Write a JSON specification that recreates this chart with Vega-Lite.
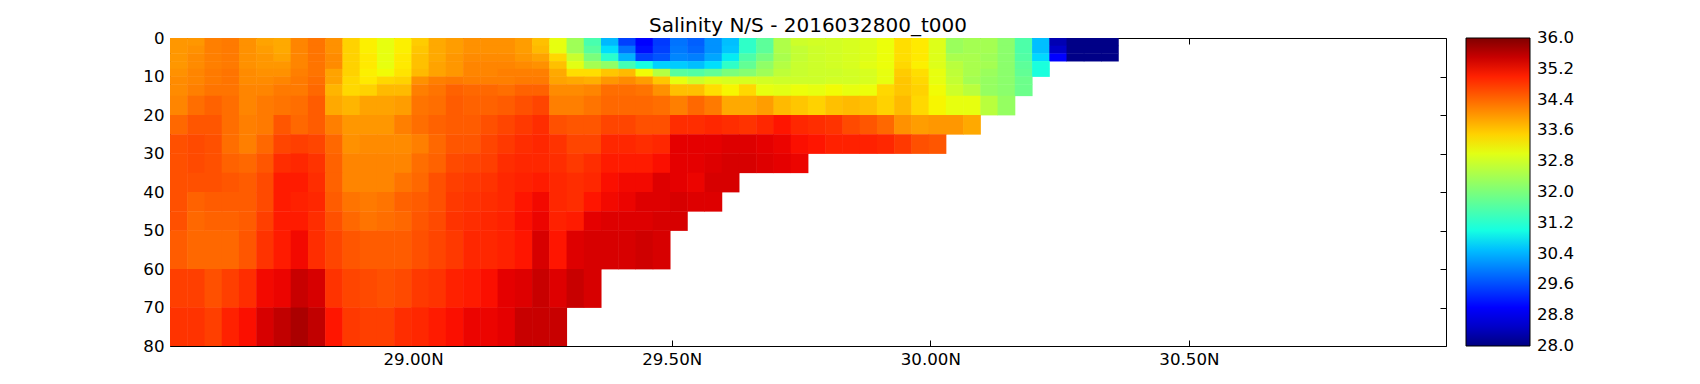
{"$schema":"https://vega.github.io/schema/vega-lite/v6.json","autosize":"none","width":1276,"height":308,"padding":{"left":170,"top":38,"right":254,"bottom":38},"background":"white","config":{"view":{"stroke":"black","strokeWidth":1},"font":"DejaVu Sans","axis":{"grid":false,"domain":false,"tickColor":"black","tickWidth":1,"labelColor":"black","labelFont":"DejaVu Sans","labelFontSize":16.67,"title":null,"zindex":1}},"title":{"text":"Salinity N/S - 2016032800_t000","font":"DejaVu Sans","fontSize":20,"fontWeight":"normal","color":"black","anchor":"middle","offset":-6},"datasets":{"columns":[{"lat":28.53,"lat2":28.5643},{"lat":28.5633,"lat2":28.5977},{"lat":28.5967,"lat2":28.631},{"lat":28.63,"lat2":28.6643},{"lat":28.6633,"lat2":28.6977},{"lat":28.6967,"lat2":28.731},{"lat":28.73,"lat2":28.7643},{"lat":28.7633,"lat2":28.7977},{"lat":28.7967,"lat2":28.831},{"lat":28.83,"lat2":28.8643},{"lat":28.8633,"lat2":28.8977},{"lat":28.8967,"lat2":28.931},{"lat":28.93,"lat2":28.9643},{"lat":28.9633,"lat2":28.9977},{"lat":28.9967,"lat2":29.031},{"lat":29.03,"lat2":29.0643},{"lat":29.0633,"lat2":29.0977},{"lat":29.0967,"lat2":29.131},{"lat":29.13,"lat2":29.1643},{"lat":29.1633,"lat2":29.1977},{"lat":29.1967,"lat2":29.231},{"lat":29.23,"lat2":29.2643},{"lat":29.2633,"lat2":29.2977},{"lat":29.2967,"lat2":29.331},{"lat":29.33,"lat2":29.3643},{"lat":29.3633,"lat2":29.3977},{"lat":29.3967,"lat2":29.431},{"lat":29.43,"lat2":29.4643},{"lat":29.4633,"lat2":29.4977},{"lat":29.4967,"lat2":29.531},{"lat":29.53,"lat2":29.5643},{"lat":29.5633,"lat2":29.5977},{"lat":29.5967,"lat2":29.631},{"lat":29.63,"lat2":29.6643},{"lat":29.6633,"lat2":29.6977},{"lat":29.6967,"lat2":29.731},{"lat":29.73,"lat2":29.7643},{"lat":29.7633,"lat2":29.7977},{"lat":29.7967,"lat2":29.831},{"lat":29.83,"lat2":29.8643},{"lat":29.8633,"lat2":29.8977},{"lat":29.8967,"lat2":29.931},{"lat":29.93,"lat2":29.9643},{"lat":29.9633,"lat2":29.9977},{"lat":29.9967,"lat2":30.031},{"lat":30.03,"lat2":30.0643},{"lat":30.0633,"lat2":30.0977},{"lat":30.0967,"lat2":30.131},{"lat":30.13,"lat2":30.1643},{"lat":30.1633,"lat2":30.1977},{"lat":30.1967,"lat2":30.231},{"lat":30.23,"lat2":30.2643},{"lat":30.2633,"lat2":30.2977},{"lat":30.2967,"lat2":30.331},{"lat":30.33,"lat2":30.3643}],"levels":[{"z":0,"z2":2.1},{"z":2,"z2":4.1},{"z":4,"z2":6.1},{"z":6,"z2":8.1},{"z":8,"z2":10.1},{"z":10,"z2":12.1},{"z":12,"z2":15.1},{"z":15,"z2":20.1},{"z":20,"z2":25.1},{"z":25,"z2":30.1},{"z":30,"z2":35.1},{"z":35,"z2":40.1},{"z":40,"z2":45.1},{"z":45,"z2":50.1},{"z":50,"z2":60.1},{"z":60,"z2":70.1},{"z":70,"z2":80}]},"data":{"values":[
{"lat":28.53,"z":0,"s":34},{"lat":28.5633,"z":0,"s":34},{"lat":28.5967,"z":0,"s":34.2},{"lat":28.63,"z":0,"s":34.25},{"lat":28.6633,"z":0,"s":34.05},{"lat":28.6967,"z":0,"s":33.9},{"lat":28.73,"z":0,"s":33.85},{"lat":28.7633,"z":0,"s":34.15},{"lat":28.7967,"z":0,"s":34.3},{"lat":28.83,"z":0,"s":34.05},{"lat":28.8633,"z":0,"s":33.5},{"lat":28.8967,"z":0,"s":33.25},{"lat":28.93,"z":0,"s":33.05},{"lat":28.9633,"z":0,"s":33.25},{"lat":28.9967,"z":0,"s":33.55},{"lat":29.03,"z":0,"s":33.85},{"lat":29.0633,"z":0,"s":33.95},{"lat":29.0967,"z":0,"s":34.05},{"lat":29.13,"z":0,"s":34.05},{"lat":29.1633,"z":0,"s":34.05},{"lat":29.1967,"z":0,"s":33.95},{"lat":29.23,"z":0,"s":33.65},{"lat":29.2633,"z":0,"s":33.05},{"lat":29.2967,"z":0,"s":32.35},{"lat":29.33,"z":0,"s":31.5},{"lat":29.3633,"z":0,"s":30.45},{"lat":29.3967,"z":0,"s":29.5},{"lat":29.43,"z":0,"s":29},{"lat":29.4633,"z":0,"s":29.45},{"lat":29.4967,"z":0,"s":29.9},{"lat":29.53,"z":0,"s":29.75},{"lat":29.5633,"z":0,"s":30.15},{"lat":29.5967,"z":0,"s":30.5},{"lat":29.63,"z":0,"s":31.25},{"lat":29.6633,"z":0,"s":31.7},{"lat":29.6967,"z":0,"s":32.5},{"lat":29.73,"z":0,"s":32.8},{"lat":29.7633,"z":0,"s":32.85},{"lat":29.7967,"z":0,"s":32.85},{"lat":29.83,"z":0,"s":32.9},{"lat":29.8633,"z":0,"s":32.95},{"lat":29.8967,"z":0,"s":33.1},{"lat":29.93,"z":0,"s":33.4},{"lat":29.9633,"z":0,"s":33.3},{"lat":29.9967,"z":0,"s":32.95},{"lat":30.03,"z":0,"s":32.3},{"lat":30.0633,"z":0,"s":32.4},{"lat":30.0967,"z":0,"s":32.4},{"lat":30.13,"z":0,"s":32.15},{"lat":30.1633,"z":0,"s":31.55},{"lat":30.1967,"z":0,"s":30.5},{"lat":30.23,"z":0,"s":28.35},{"lat":30.2633,"z":0,"s":28.05},{"lat":30.2967,"z":0,"s":28.05},{"lat":30.33,"z":0,"s":28.05},
{"lat":28.53,"z":2,"s":34},{"lat":28.5633,"z":2,"s":34.05},{"lat":28.5967,"z":2,"s":34.2},{"lat":28.63,"z":2,"s":34.25},{"lat":28.6633,"z":2,"s":34.05},{"lat":28.6967,"z":2,"s":33.95},{"lat":28.73,"z":2,"s":33.85},{"lat":28.7633,"z":2,"s":34.15},{"lat":28.7967,"z":2,"s":34.3},{"lat":28.83,"z":2,"s":34.05},{"lat":28.8633,"z":2,"s":33.5},{"lat":28.8967,"z":2,"s":33.25},{"lat":28.93,"z":2,"s":33.05},{"lat":28.9633,"z":2,"s":33.25},{"lat":28.9967,"z":2,"s":33.6},{"lat":29.03,"z":2,"s":33.85},{"lat":29.0633,"z":2,"s":33.95},{"lat":29.0967,"z":2,"s":34.05},{"lat":29.13,"z":2,"s":34.05},{"lat":29.1633,"z":2,"s":34.05},{"lat":29.1967,"z":2,"s":33.95},{"lat":29.23,"z":2,"s":33.7},{"lat":29.2633,"z":2,"s":33.05},{"lat":29.2967,"z":2,"s":32.35},{"lat":29.33,"z":2,"s":31.65},{"lat":29.3633,"z":2,"s":30.75},{"lat":29.3967,"z":2,"s":29.9},{"lat":29.43,"z":2,"s":29.1},{"lat":29.4633,"z":2,"s":29.5},{"lat":29.4967,"z":2,"s":29.95},{"lat":29.53,"z":2,"s":29.8},{"lat":29.5633,"z":2,"s":30.15},{"lat":29.5967,"z":2,"s":30.55},{"lat":29.63,"z":2,"s":31.25},{"lat":29.6633,"z":2,"s":31.7},{"lat":29.6967,"z":2,"s":32.5},{"lat":29.73,"z":2,"s":32.7},{"lat":29.7633,"z":2,"s":32.8},{"lat":29.7967,"z":2,"s":32.85},{"lat":29.83,"z":2,"s":32.9},{"lat":29.8633,"z":2,"s":32.95},{"lat":29.8967,"z":2,"s":33.1},{"lat":29.93,"z":2,"s":33.4},{"lat":29.9633,"z":2,"s":33.3},{"lat":29.9967,"z":2,"s":32.95},{"lat":30.03,"z":2,"s":32.3},{"lat":30.0633,"z":2,"s":32.4},{"lat":30.0967,"z":2,"s":32.4},{"lat":30.13,"z":2,"s":32.15},{"lat":30.1633,"z":2,"s":31.55},{"lat":30.1967,"z":2,"s":30.5},{"lat":30.23,"z":2,"s":28.5},{"lat":30.2633,"z":2,"s":28.05},{"lat":30.2967,"z":2,"s":28.05},{"lat":30.33,"z":2,"s":28.05},
{"lat":28.53,"z":4,"s":34},{"lat":28.5633,"z":4,"s":34.1},{"lat":28.5967,"z":4,"s":34.2},{"lat":28.63,"z":4,"s":34.25},{"lat":28.6633,"z":4,"s":34.05},{"lat":28.6967,"z":4,"s":34},{"lat":28.73,"z":4,"s":33.9},{"lat":28.7633,"z":4,"s":34.15},{"lat":28.7967,"z":4,"s":34.3},{"lat":28.83,"z":4,"s":34.1},{"lat":28.8633,"z":4,"s":33.5},{"lat":28.8967,"z":4,"s":33.3},{"lat":28.93,"z":4,"s":33.05},{"lat":28.9633,"z":4,"s":33.3},{"lat":28.9967,"z":4,"s":33.65},{"lat":29.03,"z":4,"s":33.85},{"lat":29.0633,"z":4,"s":34},{"lat":29.0967,"z":4,"s":34.1},{"lat":29.13,"z":4,"s":34.1},{"lat":29.1633,"z":4,"s":34.1},{"lat":29.1967,"z":4,"s":34},{"lat":29.23,"z":4,"s":33.9},{"lat":29.2633,"z":4,"s":33.45},{"lat":29.2967,"z":4,"s":32.75},{"lat":29.33,"z":4,"s":32},{"lat":29.3633,"z":4,"s":31.2},{"lat":29.3967,"z":4,"s":30.4},{"lat":29.43,"z":4,"s":29.5},{"lat":29.4633,"z":4,"s":29.65},{"lat":29.4967,"z":4,"s":30.05},{"lat":29.53,"z":4,"s":30},{"lat":29.5633,"z":4,"s":30.3},{"lat":29.5967,"z":4,"s":30.85},{"lat":29.63,"z":4,"s":31.55},{"lat":29.6633,"z":4,"s":31.95},{"lat":29.6967,"z":4,"s":32.45},{"lat":29.73,"z":4,"s":32.7},{"lat":29.7633,"z":4,"s":32.8},{"lat":29.7967,"z":4,"s":32.85},{"lat":29.83,"z":4,"s":32.9},{"lat":29.8633,"z":4,"s":32.95},{"lat":29.8967,"z":4,"s":33.1},{"lat":29.93,"z":4,"s":33.4},{"lat":29.9633,"z":4,"s":33.3},{"lat":29.9967,"z":4,"s":32.95},{"lat":30.03,"z":4,"s":32.45},{"lat":30.0633,"z":4,"s":32.45},{"lat":30.0967,"z":4,"s":32.35},{"lat":30.13,"z":4,"s":32.15},{"lat":30.1633,"z":4,"s":31.6},{"lat":30.1967,"z":4,"s":30.7},{"lat":30.23,"z":4,"s":28.95},{"lat":30.2633,"z":4,"s":28.05},{"lat":30.2967,"z":4,"s":28.05},{"lat":30.33,"z":4,"s":28.05},
{"lat":28.53,"z":6,"s":34},{"lat":28.5633,"z":6,"s":34.1},{"lat":28.5967,"z":6,"s":34.2},{"lat":28.63,"z":6,"s":34.25},{"lat":28.6633,"z":6,"s":34.05},{"lat":28.6967,"z":6,"s":34},{"lat":28.73,"z":6,"s":34},{"lat":28.7633,"z":6,"s":34.15},{"lat":28.7967,"z":6,"s":34.3},{"lat":28.83,"z":6,"s":34.1},{"lat":28.8633,"z":6,"s":33.5},{"lat":28.8967,"z":6,"s":33.3},{"lat":28.93,"z":6,"s":33.05},{"lat":28.9633,"z":6,"s":33.3},{"lat":28.9967,"z":6,"s":33.65},{"lat":29.03,"z":6,"s":33.9},{"lat":29.0633,"z":6,"s":34},{"lat":29.0967,"z":6,"s":34.15},{"lat":29.13,"z":6,"s":34.15},{"lat":29.1633,"z":6,"s":34.15},{"lat":29.1967,"z":6,"s":34.1},{"lat":29.23,"z":6,"s":34.05},{"lat":29.2633,"z":6,"s":33.65},{"lat":29.2967,"z":6,"s":33},{"lat":29.33,"z":6,"s":32.4},{"lat":29.3633,"z":6,"s":32.2},{"lat":29.3967,"z":6,"s":31.45},{"lat":29.43,"z":6,"s":31},{"lat":29.4633,"z":6,"s":30.65},{"lat":29.4967,"z":6,"s":30.6},{"lat":29.53,"z":6,"s":30.5},{"lat":29.5633,"z":6,"s":30.75},{"lat":29.5967,"z":6,"s":31.25},{"lat":29.63,"z":6,"s":31.75},{"lat":29.6633,"z":6,"s":32.2},{"lat":29.6967,"z":6,"s":32.55},{"lat":29.73,"z":6,"s":32.75},{"lat":29.7633,"z":6,"s":32.8},{"lat":29.7967,"z":6,"s":32.85},{"lat":29.83,"z":6,"s":32.9},{"lat":29.8633,"z":6,"s":33},{"lat":29.8967,"z":6,"s":33.1},{"lat":29.93,"z":6,"s":33.45},{"lat":29.9633,"z":6,"s":33.25},{"lat":29.9967,"z":6,"s":32.95},{"lat":30.03,"z":6,"s":32.6},{"lat":30.0633,"z":6,"s":32.45},{"lat":30.0967,"z":6,"s":32.4},{"lat":30.13,"z":6,"s":32.15},{"lat":30.1633,"z":6,"s":31.7},{"lat":30.1967,"z":6,"s":31.05},
{"lat":28.53,"z":8,"s":34.05},{"lat":28.5633,"z":8,"s":34.15},{"lat":28.5967,"z":8,"s":34.25},{"lat":28.63,"z":8,"s":34.3},{"lat":28.6633,"z":8,"s":34.1},{"lat":28.6967,"z":8,"s":34.05},{"lat":28.73,"z":8,"s":34.05},{"lat":28.7633,"z":8,"s":34.2},{"lat":28.7967,"z":8,"s":34.3},{"lat":28.83,"z":8,"s":33.9},{"lat":28.8633,"z":8,"s":33.5},{"lat":28.8967,"z":8,"s":33.25},{"lat":28.93,"z":8,"s":33.15},{"lat":28.9633,"z":8,"s":33.35},{"lat":28.9967,"z":8,"s":33.7},{"lat":29.03,"z":8,"s":33.9},{"lat":29.0633,"z":8,"s":34},{"lat":29.0967,"z":8,"s":34.15},{"lat":29.13,"z":8,"s":34.15},{"lat":29.1633,"z":8,"s":34.2},{"lat":29.1967,"z":8,"s":34.2},{"lat":29.23,"z":8,"s":34.2},{"lat":29.2633,"z":8,"s":33.85},{"lat":29.2967,"z":8,"s":33.4},{"lat":29.33,"z":8,"s":33.4},{"lat":29.3633,"z":8,"s":33.6},{"lat":29.3967,"z":8,"s":33.7},{"lat":29.43,"z":8,"s":33.15},{"lat":29.4633,"z":8,"s":32.55},{"lat":29.4967,"z":8,"s":31.65},{"lat":29.53,"z":8,"s":31.6},{"lat":29.5633,"z":8,"s":31.75},{"lat":29.5967,"z":8,"s":32},{"lat":29.63,"z":8,"s":32.1},{"lat":29.6633,"z":8,"s":32.35},{"lat":29.6967,"z":8,"s":32.65},{"lat":29.73,"z":8,"s":32.75},{"lat":29.7633,"z":8,"s":32.8},{"lat":29.7967,"z":8,"s":32.8},{"lat":29.83,"z":8,"s":32.85},{"lat":29.8633,"z":8,"s":32.9},{"lat":29.8967,"z":8,"s":33.05},{"lat":29.93,"z":8,"s":33.55},{"lat":29.9633,"z":8,"s":33.4},{"lat":29.9967,"z":8,"s":33.05},{"lat":30.03,"z":8,"s":32.65},{"lat":30.0633,"z":8,"s":32.45},{"lat":30.0967,"z":8,"s":32.3},{"lat":30.13,"z":8,"s":32.15},{"lat":30.1633,"z":8,"s":31.75},{"lat":30.1967,"z":8,"s":31.05},
{"lat":28.53,"z":10,"s":34.1},{"lat":28.5633,"z":10,"s":34.15},{"lat":28.5967,"z":10,"s":34.25},{"lat":28.63,"z":10,"s":34.3},{"lat":28.6633,"z":10,"s":34.1},{"lat":28.6967,"z":10,"s":34.1},{"lat":28.73,"z":10,"s":34.15},{"lat":28.7633,"z":10,"s":34.25},{"lat":28.7967,"z":10,"s":34.35},{"lat":28.83,"z":10,"s":33.9},{"lat":28.8633,"z":10,"s":33.45},{"lat":28.8967,"z":10,"s":33.3},{"lat":28.93,"z":10,"s":33.45},{"lat":28.9633,"z":10,"s":33.5},{"lat":28.9967,"z":10,"s":34.05},{"lat":29.03,"z":10,"s":34.2},{"lat":29.0633,"z":10,"s":34.25},{"lat":29.0967,"z":10,"s":34.2},{"lat":29.13,"z":10,"s":34.2},{"lat":29.1633,"z":10,"s":34.2},{"lat":29.1967,"z":10,"s":34.25},{"lat":29.23,"z":10,"s":34.25},{"lat":29.2633,"z":10,"s":33.9},{"lat":29.2967,"z":10,"s":33.85},{"lat":29.33,"z":10,"s":33.8},{"lat":29.3633,"z":10,"s":34},{"lat":29.3967,"z":10,"s":34.1},{"lat":29.43,"z":10,"s":33.95},{"lat":29.4633,"z":10,"s":33.6},{"lat":29.4967,"z":10,"s":33.05},{"lat":29.53,"z":10,"s":32.8},{"lat":29.5633,"z":10,"s":32.95},{"lat":29.5967,"z":10,"s":32.9},{"lat":29.63,"z":10,"s":32.9},{"lat":29.6633,"z":10,"s":32.85},{"lat":29.6967,"z":10,"s":32.8},{"lat":29.73,"z":10,"s":32.8},{"lat":29.7633,"z":10,"s":32.8},{"lat":29.7967,"z":10,"s":32.85},{"lat":29.83,"z":10,"s":32.85},{"lat":29.8633,"z":10,"s":32.9},{"lat":29.8967,"z":10,"s":33.05},{"lat":29.93,"z":10,"s":33.6},{"lat":29.9633,"z":10,"s":33.45},{"lat":29.9967,"z":10,"s":33.05},{"lat":30.03,"z":10,"s":32.7},{"lat":30.0633,"z":10,"s":32.4},{"lat":30.0967,"z":10,"s":32.25},{"lat":30.13,"z":10,"s":32.15},{"lat":30.1633,"z":10,"s":31.85},
{"lat":28.53,"z":12,"s":34.1},{"lat":28.5633,"z":12,"s":34.2},{"lat":28.5967,"z":12,"s":34.3},{"lat":28.63,"z":12,"s":34.3},{"lat":28.6633,"z":12,"s":34.15},{"lat":28.6967,"z":12,"s":34.15},{"lat":28.73,"z":12,"s":34.25},{"lat":28.7633,"z":12,"s":34.25},{"lat":28.7967,"z":12,"s":34.4},{"lat":28.83,"z":12,"s":33.75},{"lat":28.8633,"z":12,"s":33.45},{"lat":28.8967,"z":12,"s":33.5},{"lat":28.93,"z":12,"s":33.7},{"lat":28.9633,"z":12,"s":33.7},{"lat":28.9967,"z":12,"s":34.2},{"lat":29.03,"z":12,"s":34.3},{"lat":29.0633,"z":12,"s":34.45},{"lat":29.0967,"z":12,"s":34.4},{"lat":29.13,"z":12,"s":34.4},{"lat":29.1633,"z":12,"s":34.35},{"lat":29.1967,"z":12,"s":34.45},{"lat":29.23,"z":12,"s":34.45},{"lat":29.2633,"z":12,"s":34.1},{"lat":29.2967,"z":12,"s":34.1},{"lat":29.33,"z":12,"s":34.15},{"lat":29.3633,"z":12,"s":34.35},{"lat":29.3967,"z":12,"s":34.35},{"lat":29.43,"z":12,"s":34.3},{"lat":29.4633,"z":12,"s":34.05},{"lat":29.4967,"z":12,"s":33.65},{"lat":29.53,"z":12,"s":33.65},{"lat":29.5633,"z":12,"s":33.4},{"lat":29.5967,"z":12,"s":33.2},{"lat":29.63,"z":12,"s":33.45},{"lat":29.6633,"z":12,"s":33.05},{"lat":29.6967,"z":12,"s":33},{"lat":29.73,"z":12,"s":33.1},{"lat":29.7633,"z":12,"s":33.05},{"lat":29.7967,"z":12,"s":33.15},{"lat":29.83,"z":12,"s":33.05},{"lat":29.8633,"z":12,"s":33.1},{"lat":29.8967,"z":12,"s":33.45},{"lat":29.93,"z":12,"s":33.6},{"lat":29.9633,"z":12,"s":33.5},{"lat":29.9967,"z":12,"s":33.15},{"lat":30.03,"z":12,"s":32.8},{"lat":30.0633,"z":12,"s":32.6},{"lat":30.0967,"z":12,"s":32.25},{"lat":30.13,"z":12,"s":32.15},{"lat":30.1633,"z":12,"s":31.85},
{"lat":28.53,"z":15,"s":34.15},{"lat":28.5633,"z":15,"s":34.35},{"lat":28.5967,"z":15,"s":34.45},{"lat":28.63,"z":15,"s":34.35},{"lat":28.6633,"z":15,"s":34.15},{"lat":28.6967,"z":15,"s":34.25},{"lat":28.73,"z":15,"s":34.3},{"lat":28.7633,"z":15,"s":34.35},{"lat":28.7967,"z":15,"s":34.5},{"lat":28.83,"z":15,"s":33.85},{"lat":28.8633,"z":15,"s":33.75},{"lat":28.8967,"z":15,"s":33.9},{"lat":28.93,"z":15,"s":33.9},{"lat":28.9633,"z":15,"s":33.95},{"lat":28.9967,"z":15,"s":34.3},{"lat":29.03,"z":15,"s":34.35},{"lat":29.0633,"z":15,"s":34.5},{"lat":29.0967,"z":15,"s":34.45},{"lat":29.13,"z":15,"s":34.45},{"lat":29.1633,"z":15,"s":34.5},{"lat":29.1967,"z":15,"s":34.6},{"lat":29.23,"z":15,"s":34.7},{"lat":29.2633,"z":15,"s":34.2},{"lat":29.2967,"z":15,"s":34.2},{"lat":29.33,"z":15,"s":34.3},{"lat":29.3633,"z":15,"s":34.4},{"lat":29.3967,"z":15,"s":34.4},{"lat":29.43,"z":15,"s":34.4},{"lat":29.4633,"z":15,"s":34.35},{"lat":29.4967,"z":15,"s":34.2},{"lat":29.53,"z":15,"s":34.4},{"lat":29.5633,"z":15,"s":34.25},{"lat":29.5967,"z":15,"s":33.85},{"lat":29.63,"z":15,"s":33.85},{"lat":29.6633,"z":15,"s":33.95},{"lat":29.6967,"z":15,"s":33.7},{"lat":29.73,"z":15,"s":33.6},{"lat":29.7633,"z":15,"s":33.5},{"lat":29.7967,"z":15,"s":33.65},{"lat":29.83,"z":15,"s":33.7},{"lat":29.8633,"z":15,"s":33.65},{"lat":29.8967,"z":15,"s":33.5},{"lat":29.93,"z":15,"s":33.7},{"lat":29.9633,"z":15,"s":33.45},{"lat":29.9967,"z":15,"s":33.2},{"lat":30.03,"z":15,"s":33.05},{"lat":30.0633,"z":15,"s":33.05},{"lat":30.0967,"z":15,"s":32.6},{"lat":30.13,"z":15,"s":32.25},
{"lat":28.53,"z":20,"s":34.4},{"lat":28.5633,"z":20,"s":34.55},{"lat":28.5967,"z":20,"s":34.55},{"lat":28.63,"z":20,"s":34.35},{"lat":28.6633,"z":20,"s":34.2},{"lat":28.6967,"z":20,"s":34.25},{"lat":28.73,"z":20,"s":34.55},{"lat":28.7633,"z":20,"s":34.4},{"lat":28.7967,"z":20,"s":34.5},{"lat":28.83,"z":20,"s":34.2},{"lat":28.8633,"z":20,"s":34},{"lat":28.8967,"z":20,"s":34},{"lat":28.93,"z":20,"s":34},{"lat":28.9633,"z":20,"s":34.2},{"lat":28.9967,"z":20,"s":34.35},{"lat":29.03,"z":20,"s":34.45},{"lat":29.0633,"z":20,"s":34.5},{"lat":29.0967,"z":20,"s":34.5},{"lat":29.13,"z":20,"s":34.6},{"lat":29.1633,"z":20,"s":34.7},{"lat":29.1967,"z":20,"s":34.8},{"lat":29.23,"z":20,"s":34.9},{"lat":29.2633,"z":20,"s":34.6},{"lat":29.2967,"z":20,"s":34.55},{"lat":29.33,"z":20,"s":34.55},{"lat":29.3633,"z":20,"s":34.7},{"lat":29.3967,"z":20,"s":34.7},{"lat":29.43,"z":20,"s":34.6},{"lat":29.4633,"z":20,"s":34.6},{"lat":29.4967,"z":20,"s":34.9},{"lat":29.53,"z":20,"s":34.9},{"lat":29.5633,"z":20,"s":34.95},{"lat":29.5967,"z":20,"s":34.9},{"lat":29.63,"z":20,"s":34.85},{"lat":29.6633,"z":20,"s":34.95},{"lat":29.6967,"z":20,"s":35.1},{"lat":29.73,"z":20,"s":34.95},{"lat":29.7633,"z":20,"s":34.9},{"lat":29.7967,"z":20,"s":34.85},{"lat":29.83,"z":20,"s":34.65},{"lat":29.8633,"z":20,"s":34.55},{"lat":29.8967,"z":20,"s":34.4},{"lat":29.93,"z":20,"s":34.05},{"lat":29.9633,"z":20,"s":33.95},{"lat":29.9967,"z":20,"s":34},{"lat":30.03,"z":20,"s":34},{"lat":30.0633,"z":20,"s":33.85},
{"lat":28.53,"z":25,"s":34.6},{"lat":28.5633,"z":25,"s":34.65},{"lat":28.5967,"z":25,"s":34.6},{"lat":28.63,"z":25,"s":34.35},{"lat":28.6633,"z":25,"s":34.2},{"lat":28.6967,"z":25,"s":34.4},{"lat":28.73,"z":25,"s":34.7},{"lat":28.7633,"z":25,"s":34.75},{"lat":28.7967,"z":25,"s":34.7},{"lat":28.83,"z":25,"s":34.4},{"lat":28.8633,"z":25,"s":34.05},{"lat":28.8967,"z":25,"s":34.1},{"lat":28.93,"z":25,"s":34.1},{"lat":28.9633,"z":25,"s":34.1},{"lat":28.9967,"z":25,"s":34.2},{"lat":29.03,"z":25,"s":34.4},{"lat":29.0633,"z":25,"s":34.55},{"lat":29.0967,"z":25,"s":34.55},{"lat":29.13,"z":25,"s":34.7},{"lat":29.1633,"z":25,"s":34.8},{"lat":29.1967,"z":25,"s":34.9},{"lat":29.23,"z":25,"s":34.95},{"lat":29.2633,"z":25,"s":34.85},{"lat":29.2967,"z":25,"s":34.7},{"lat":29.33,"z":25,"s":34.7},{"lat":29.3633,"z":25,"s":34.95},{"lat":29.3967,"z":25,"s":34.95},{"lat":29.43,"z":25,"s":34.9},{"lat":29.4633,"z":25,"s":34.95},{"lat":29.4967,"z":25,"s":35.3},{"lat":29.53,"z":25,"s":35.3},{"lat":29.5633,"z":25,"s":35.3},{"lat":29.5967,"z":25,"s":35.35},{"lat":29.63,"z":25,"s":35.35},{"lat":29.6633,"z":25,"s":35.3},{"lat":29.6967,"z":25,"s":35.25},{"lat":29.73,"z":25,"s":35.15},{"lat":29.7633,"z":25,"s":35.1},{"lat":29.7967,"z":25,"s":35},{"lat":29.83,"z":25,"s":35},{"lat":29.8633,"z":25,"s":35},{"lat":29.8967,"z":25,"s":34.95},{"lat":29.93,"z":25,"s":34.8},{"lat":29.9633,"z":25,"s":34.6},{"lat":29.9967,"z":25,"s":34.55},
{"lat":28.53,"z":30,"s":34.6},{"lat":28.5633,"z":30,"s":34.65},{"lat":28.5967,"z":30,"s":34.6},{"lat":28.63,"z":30,"s":34.45},{"lat":28.6633,"z":30,"s":34.4},{"lat":28.6967,"z":30,"s":34.55},{"lat":28.73,"z":30,"s":34.9},{"lat":28.7633,"z":30,"s":34.95},{"lat":28.7967,"z":30,"s":34.85},{"lat":28.83,"z":30,"s":34.45},{"lat":28.8633,"z":30,"s":34.15},{"lat":28.8967,"z":30,"s":34.15},{"lat":28.93,"z":30,"s":34.15},{"lat":28.9633,"z":30,"s":34.15},{"lat":28.9967,"z":30,"s":34.35},{"lat":29.03,"z":30,"s":34.45},{"lat":29.0633,"z":30,"s":34.65},{"lat":29.0967,"z":30,"s":34.7},{"lat":29.13,"z":30,"s":34.75},{"lat":29.1633,"z":30,"s":34.9},{"lat":29.1967,"z":30,"s":34.95},{"lat":29.23,"z":30,"s":34.95},{"lat":29.2633,"z":30,"s":34.9},{"lat":29.2967,"z":30,"s":34.8},{"lat":29.33,"z":30,"s":34.9},{"lat":29.3633,"z":30,"s":35.05},{"lat":29.3967,"z":30,"s":35.05},{"lat":29.43,"z":30,"s":35.05},{"lat":29.4633,"z":30,"s":35.15},{"lat":29.4967,"z":30,"s":35.3},{"lat":29.53,"z":30,"s":35.3},{"lat":29.5633,"z":30,"s":35.35},{"lat":29.5967,"z":30,"s":35.4},{"lat":29.63,"z":30,"s":35.4},{"lat":29.6633,"z":30,"s":35.35},{"lat":29.6967,"z":30,"s":35.3},{"lat":29.73,"z":30,"s":35.25},
{"lat":28.53,"z":35,"s":34.6},{"lat":28.5633,"z":35,"s":34.6},{"lat":28.5967,"z":35,"s":34.6},{"lat":28.63,"z":35,"s":34.55},{"lat":28.6633,"z":35,"s":34.5},{"lat":28.6967,"z":35,"s":34.65},{"lat":28.73,"z":35,"s":35.05},{"lat":28.7633,"z":35,"s":35.05},{"lat":28.7967,"z":35,"s":34.9},{"lat":28.83,"z":35,"s":34.45},{"lat":28.8633,"z":35,"s":34.15},{"lat":28.8967,"z":35,"s":34.15},{"lat":28.93,"z":35,"s":34.15},{"lat":28.9633,"z":35,"s":34.3},{"lat":28.9967,"z":35,"s":34.4},{"lat":29.03,"z":35,"s":34.6},{"lat":29.0633,"z":35,"s":34.75},{"lat":29.0967,"z":35,"s":34.8},{"lat":29.13,"z":35,"s":34.85},{"lat":29.1633,"z":35,"s":34.95},{"lat":29.1967,"z":35,"s":35},{"lat":29.23,"z":35,"s":35.05},{"lat":29.2633,"z":35,"s":34.95},{"lat":29.2967,"z":35,"s":34.9},{"lat":29.33,"z":35,"s":34.95},{"lat":29.3633,"z":35,"s":35.15},{"lat":29.3967,"z":35,"s":35.2},{"lat":29.43,"z":35,"s":35.2},{"lat":29.4633,"z":35,"s":35.35},{"lat":29.4967,"z":35,"s":35.3},{"lat":29.53,"z":35,"s":35.25},{"lat":29.5633,"z":35,"s":35.4},{"lat":29.5967,"z":35,"s":35.4},
{"lat":28.53,"z":40,"s":34.6},{"lat":28.5633,"z":40,"s":34.45},{"lat":28.5967,"z":40,"s":34.5},{"lat":28.63,"z":40,"s":34.5},{"lat":28.6633,"z":40,"s":34.5},{"lat":28.6967,"z":40,"s":34.65},{"lat":28.73,"z":40,"s":35.05},{"lat":28.7633,"z":40,"s":35},{"lat":28.7967,"z":40,"s":34.95},{"lat":28.83,"z":40,"s":34.5},{"lat":28.8633,"z":40,"s":34.3},{"lat":28.8967,"z":40,"s":34.25},{"lat":28.93,"z":40,"s":34.3},{"lat":28.9633,"z":40,"s":34.45},{"lat":28.9967,"z":40,"s":34.5},{"lat":29.03,"z":40,"s":34.6},{"lat":29.0633,"z":40,"s":34.8},{"lat":29.0967,"z":40,"s":34.85},{"lat":29.13,"z":40,"s":34.9},{"lat":29.1633,"z":40,"s":34.95},{"lat":29.1967,"z":40,"s":35.1},{"lat":29.23,"z":40,"s":35.2},{"lat":29.2633,"z":40,"s":34.95},{"lat":29.2967,"z":40,"s":34.9},{"lat":29.33,"z":40,"s":35.1},{"lat":29.3633,"z":40,"s":35.2},{"lat":29.3967,"z":40,"s":35.25},{"lat":29.43,"z":40,"s":35.35},{"lat":29.4633,"z":40,"s":35.35},{"lat":29.4967,"z":40,"s":35.4},{"lat":29.53,"z":40,"s":35.35},{"lat":29.5633,"z":40,"s":35.35},
{"lat":28.53,"z":45,"s":34.6},{"lat":28.5633,"z":45,"s":34.4},{"lat":28.5967,"z":45,"s":34.45},{"lat":28.63,"z":45,"s":34.45},{"lat":28.6633,"z":45,"s":34.5},{"lat":28.6967,"z":45,"s":34.75},{"lat":28.73,"z":45,"s":35.05},{"lat":28.7633,"z":45,"s":35.05},{"lat":28.7967,"z":45,"s":34.9},{"lat":28.83,"z":45,"s":34.6},{"lat":28.8633,"z":45,"s":34.4},{"lat":28.8967,"z":45,"s":34.3},{"lat":28.93,"z":45,"s":34.35},{"lat":28.9633,"z":45,"s":34.4},{"lat":28.9967,"z":45,"s":34.55},{"lat":29.03,"z":45,"s":34.65},{"lat":29.0633,"z":45,"s":34.85},{"lat":29.0967,"z":45,"s":34.9},{"lat":29.13,"z":45,"s":34.95},{"lat":29.1633,"z":45,"s":35},{"lat":29.1967,"z":45,"s":35.15},{"lat":29.23,"z":45,"s":35.25},{"lat":29.2633,"z":45,"s":35},{"lat":29.2967,"z":45,"s":35.05},{"lat":29.33,"z":45,"s":35.3},{"lat":29.3633,"z":45,"s":35.35},{"lat":29.3967,"z":45,"s":35.35},{"lat":29.43,"z":45,"s":35.35},{"lat":29.4633,"z":45,"s":35.4},{"lat":29.4967,"z":45,"s":35.4},
{"lat":28.53,"z":50,"s":34.5},{"lat":28.5633,"z":50,"s":34.4},{"lat":28.5967,"z":50,"s":34.4},{"lat":28.63,"z":50,"s":34.4},{"lat":28.6633,"z":50,"s":34.55},{"lat":28.6967,"z":50,"s":34.85},{"lat":28.73,"z":50,"s":35.05},{"lat":28.7633,"z":50,"s":35.2},{"lat":28.7967,"z":50,"s":34.9},{"lat":28.83,"z":50,"s":34.7},{"lat":28.8633,"z":50,"s":34.55},{"lat":28.8967,"z":50,"s":34.5},{"lat":28.93,"z":50,"s":34.5},{"lat":28.9633,"z":50,"s":34.5},{"lat":28.9967,"z":50,"s":34.6},{"lat":29.03,"z":50,"s":34.7},{"lat":29.0633,"z":50,"s":34.8},{"lat":29.0967,"z":50,"s":34.95},{"lat":29.13,"z":50,"s":34.95},{"lat":29.1633,"z":50,"s":35},{"lat":29.1967,"z":50,"s":35.1},{"lat":29.23,"z":50,"s":35.4},{"lat":29.2633,"z":50,"s":35.1},{"lat":29.2967,"z":50,"s":35.35},{"lat":29.33,"z":50,"s":35.4},{"lat":29.3633,"z":50,"s":35.4},{"lat":29.3967,"z":50,"s":35.4},{"lat":29.43,"z":50,"s":35.45},{"lat":29.4633,"z":50,"s":35.4},
{"lat":28.53,"z":60,"s":34.75},{"lat":28.5633,"z":60,"s":34.75},{"lat":28.5967,"z":60,"s":34.6},{"lat":28.63,"z":60,"s":34.75},{"lat":28.6633,"z":60,"s":34.9},{"lat":28.6967,"z":60,"s":35.2},{"lat":28.73,"z":60,"s":35.25},{"lat":28.7633,"z":60,"s":35.5},{"lat":28.7967,"z":60,"s":35.4},{"lat":28.83,"z":60,"s":34.85},{"lat":28.8633,"z":60,"s":34.7},{"lat":28.8967,"z":60,"s":34.65},{"lat":28.93,"z":60,"s":34.6},{"lat":28.9633,"z":60,"s":34.65},{"lat":28.9967,"z":60,"s":34.8},{"lat":29.03,"z":60,"s":34.85},{"lat":29.0633,"z":60,"s":35},{"lat":29.0967,"z":60,"s":35.05},{"lat":29.13,"z":60,"s":35.15},{"lat":29.1633,"z":60,"s":35.3},{"lat":29.1967,"z":60,"s":35.35},{"lat":29.23,"z":60,"s":35.5},{"lat":29.2633,"z":60,"s":35.35},{"lat":29.2967,"z":60,"s":35.5},{"lat":29.33,"z":60,"s":35.4},
{"lat":28.53,"z":70,"s":34.85},{"lat":28.5633,"z":70,"s":34.85},{"lat":28.5967,"z":70,"s":34.75},{"lat":28.63,"z":70,"s":35},{"lat":28.6633,"z":70,"s":35.15},{"lat":28.6967,"z":70,"s":35.4},{"lat":28.73,"z":70,"s":35.55},{"lat":28.7633,"z":70,"s":35.7},{"lat":28.7967,"z":70,"s":35.55},{"lat":28.83,"z":70,"s":35.1},{"lat":28.8633,"z":70,"s":34.8},{"lat":28.8967,"z":70,"s":34.75},{"lat":28.93,"z":70,"s":34.75},{"lat":28.9633,"z":70,"s":34.9},{"lat":28.9967,"z":70,"s":34.95},{"lat":29.03,"z":70,"s":35.05},{"lat":29.0633,"z":70,"s":35.15},{"lat":29.0967,"z":70,"s":35.25},{"lat":29.13,"z":70,"s":35.25},{"lat":29.1633,"z":70,"s":35.3},{"lat":29.1967,"z":70,"s":35.5},{"lat":29.23,"z":70,"s":35.5},{"lat":29.2633,"z":70,"s":35.5}
]},"transform":[{"lookup":"lat","from":{"data":{"name":"columns"},"key":"lat","fields":["lat2"]}},{"lookup":"z","from":{"data":{"name":"levels"},"key":"z","fields":["z2"]}}],"layer":[{"mark":{"type":"rect","strokeWidth":0},"encoding":{"x":{"field":"lat","type":"quantitative","scale":{"domain":[28.53,30.997],"nice":false,"zero":false},"axis":{"values":[29,29.5,30,30.5],"labelExpr":"format(datum.value,'.2f')+'N'","tickSize":-6,"labelPadding":11}},"x2":{"field":"lat2"},"y":{"field":"z","type":"quantitative","scale":{"domain":[0,80],"reverse":true,"nice":false,"zero":false},"axis":{"values":[0,10,20,30,40,50,60,70,80],"tickSize":-6,"labelPadding":12}},"y2":{"field":"z2"},"color":{"field":"s","type":"quantitative","scale":{"type":"linear","interpolate":"rgb","domain":[28,28.88,29,30.72,30.8,31,33.12,33.2,33.28,35.12,35.28,36],"range":["#000080","#0000ff","#0000ff","#00dbff","#00e6f7","#15ffe2","#eeff08","#f7f600","#ffec00","#ff1300","#e80000","#800000"]},"legend":{"type":"gradient","orient":"none","legendX":1296,"legendY":0,"title":null,"values":[28,28.8,29.6,30.4,31.2,32,32.8,33.6,34.4,35.2,36],"format":".1f","gradientLength":308,"gradientThickness":64,"gradientStrokeColor":"black","gradientStrokeWidth":1,"labelFont":"DejaVu Sans","labelFontSize":16.67,"labelColor":"black","labelOffset":7,"labelOverlap":false,"encoding":{"labels":{"baseline":{"value":"middle"}}}}}}},{"data":{"values":[{"lat":30,"z":40}]},"mark":{"type":"point","opacity":0},"encoding":{"x":{"field":"lat","type":"quantitative","axis":{"orient":"top","values":[29,29.5,30,30.5],"labels":false,"tickSize":-6}},"y":{"field":"z","type":"quantitative","axis":{"orient":"right","values":[0,10,20,30,40,50,60,70,80],"labels":false,"tickSize":-6}}}}],"resolve":{"axis":{"x":"independent","y":"independent"}}}
